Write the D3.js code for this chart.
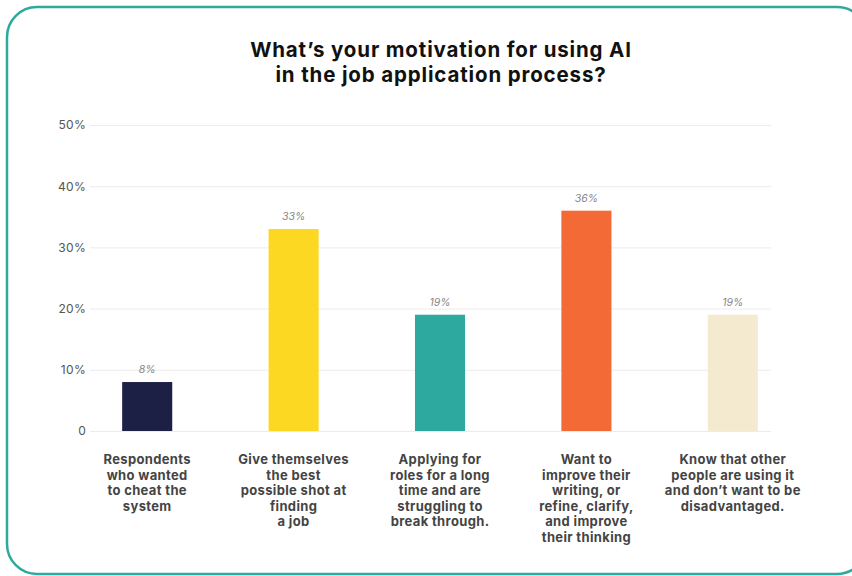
<!DOCTYPE html>
<html>
<head>
<meta charset="utf-8">
<script src="https://cdn.jsdelivr.net/npm/d3@7"></script>
<style>
  html, body { margin: 0; padding: 0; background: #ffffff; }
  svg { display: block; }
  text { font-family: Inter, "Open Sans", sans-serif; }
</style>
</head>
<body>
<svg id="chart" width="852" height="576"></svg>
<script>
// Survey answers: motivation for using AI when applying for jobs
const categories = [
  "Respondents who wanted to cheat the system",
  "Give themselves the best possible shot at finding a job",
  "Applying for roles for a long time and are struggling to break through.",
  "Want to improve their writing, or refine, clarify, and improve their thinking",
  "Know that other people are using it and don't want to be disadvantaged."
];
const labelLines = [
  ["Respondents", "who wanted", "to cheat the", "system"],
  ["Give themselves", "the best", "possible shot at", "finding", "a job"],
  ["Applying for", "roles for a long", "time and are", "struggling to", "break through."],
  ["Want to", "improve their", "writing, or", "refine, clarify,", "and improve", "their thinking"],
  ["Know that other", "people are using it", "and don\u2019t want to be", "disadvantaged."]
];
const values = [8, 33, 19, 36, 19];
const barColors = ["#1d2045", "#fcd822", "#2ea99f", "#f46a36", "#f4ead0"];
const yTicks = [0, 10, 20, 30, 40, 50];
const titleLines = ["What\u2019s your motivation for using AI", "in the job application process?"];

const svg = d3.select("#chart");

// card frame
svg.append("rect")
  .attr("x", 7).attr("y", 7)
  .attr("width", 860).attr("height", 567)
  .attr("rx", 30).attr("ry", 30)
  .attr("fill", "#ffffff")
  .attr("stroke", "#2ea99f")
  .attr("stroke-width", 2.5);

// title
svg.append("text")
  .attr("x", 441).attr("y", 57)
  .attr("text-anchor", "middle")
  .attr("font-size", 20.5).attr("font-weight", 700)
  .attr("letter-spacing", 0.85)
  .attr("fill", "#111")
  .selectAll("tspan").data(titleLines).join("tspan")
  .attr("x", 441).attr("dy", (d, i) => i === 0 ? 0 : 25)
  .text(d => d);

const y = d3.scaleLinear().domain([0, 50]).range([431, 125]);
const x = d3.scaleBand()
  .domain(categories)
  .range([74, 806])
  .paddingInner(0.658)
  .paddingOuter(0.329);

// gridlines
const gridX0 = 90, gridX1 = 771;
const axis = d3.axisLeft(y)
  .tickValues(yTicks)
  .tickSize(-(gridX1 - gridX0))
  .tickPadding(6)
  .tickFormat(d => d === 0 ? "0" : d + "%");

const gAxis = svg.append("g")
  .attr("transform", `translate(${gridX0},0)`)
  .call(axis);
gAxis.select(".domain").remove();
gAxis.selectAll(".tick line").attr("stroke", "#ececec").attr("stroke-width", 1);
gAxis.selectAll(".tick text")
  .attr("font-family", "Inter, sans-serif")
  .attr("font-size", 12)
  .attr("letter-spacing", 0.3)
  .attr("fill", "#555")
  .attr("x", -4);

// bars
svg.append("g").selectAll("rect")
  .data(categories)
  .join("rect")
  .attr("x", d => x(d))
  .attr("y", (d, i) => y(values[i]))
  .attr("width", x.bandwidth())
  .attr("height", (d, i) => y(0) - y(values[i]))
  .attr("fill", (d, i) => barColors[i]);

// value labels
svg.append("g").selectAll("text")
  .data(categories)
  .join("text")
  .attr("x", d => x(d) + x.bandwidth() / 2)
  .attr("y", (d, i) => y(values[i]) - 9)
  .attr("text-anchor", "middle")
  .attr("font-size", 10.5)
  .attr("font-style", "italic")
  .attr("fill", "#888")
  .text((d, i) => values[i] + "%");

// category labels
const catG = svg.append("g");
categories.forEach((c, i) => {
  const cx = x(c) + x.bandwidth() / 2;
  catG.append("text")
    .attr("x", cx).attr("y", 464)
    .attr("text-anchor", "middle")
    .attr("font-size", 13).attr("font-weight", 700)
    .attr("letter-spacing", 0.35)
    .attr("fill", "#444")
    .selectAll("tspan").data(labelLines[i]).join("tspan")
    .attr("x", cx).attr("dy", (d, j) => j === 0 ? 0 : 15.5)
    .text(d => d);
});
</script>
</body>
</html>
